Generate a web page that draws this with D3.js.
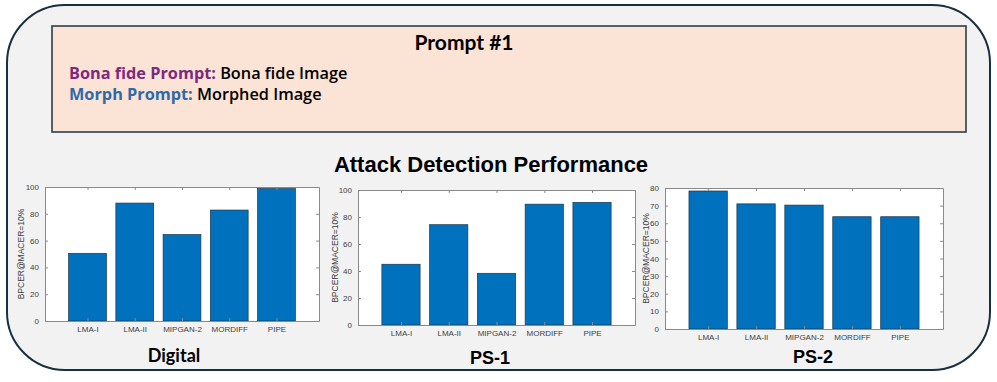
<!DOCTYPE html>
<html><head><meta charset="utf-8">
<script src="https://cdn.jsdelivr.net/npm/d3@7"></script>
<style>html,body{margin:0;padding:0;background:#fff;}svg{display:block;}</style>
</head><body>
<svg id="c" width="997" height="382"></svg>
<script>
const categories = ["LMA-I","LMA-II","MIPGAN-2","MORDIFF","PIPE"];
const digitalValues = [50.5, 88.0, 64.5, 82.8, 98.8];
const ps1Values = [45.0, 74.3, 38.3, 89.5, 90.8];
const ps2Values = [78.3, 71.0, 70.3, 63.7, 63.7];
const panelTitles = ["Digital","PS-1","PS-2"];
const yTicksDigital = [0,20,40,60,80,100];
const yTicksPS1 = [0,20,40,60,80,100];
const yTicksPS2 = [0,10,20,30,40,50,60,70,80];
const yLabel = "BPCER@MACER=10%";
const headerTitle = "Prompt #1";
const mainTitle = "Attack Detection Performance";

const svg = d3.select("#c");

// outer frame
svg.append("rect").attr("x",7).attr("y",5).attr("width",983).attr("height",365)
  .attr("rx",58).attr("ry",58).attr("fill","#f2f2f2").attr("stroke","#17303f").attr("stroke-width",2);

// header box
svg.append("rect").attr("x",52).attr("y",26).attr("width",914).attr("height",106)
  .attr("fill","#fbe3d6").attr("stroke","#1d3340").attr("stroke-width",1.5);

svg.append("text").attr("x",464).attr("y",50).attr("text-anchor","middle")
  .attr("font-family","Lato, 'Open Sans', sans-serif").attr("font-weight","bold").attr("font-size",21)
  .attr("fill","#000").text(headerTitle);

const hf = "'Open Sans', Lato, sans-serif";
const l1 = svg.append("text").attr("x",69).attr("y",79)
  .attr("font-family",hf).attr("font-size",16.3).attr("font-weight",600);
l1.append("tspan").attr("fill","#7b2a7d").attr("font-weight","bold").text("Bona fide Prompt: ");
l1.append("tspan").attr("fill","#000").text("Bona fide Image");
const l2 = svg.append("text").attr("x",69).attr("y",100)
  .attr("font-family",hf).attr("font-size",16.3).attr("font-weight",600);
l2.append("tspan").attr("fill","#2f6aa8").attr("font-weight","bold").text("Morph Prompt: ");
l2.append("tspan").attr("fill","#000").text("Morphed Image");

svg.append("text").attr("x",491).attr("y",172).attr("text-anchor","middle")
  .attr("font-family","'Liberation Sans', Arial, sans-serif").attr("font-weight","bold").attr("font-size",22)
  .attr("fill","#000").text(mainTitle);

function panel(cfg){
  const {x0,x1,y0,y1,values,ymax,ticks,title,titleX,titleY,labelX,titleFont} = cfg;
  const g = svg.append("g");
  const x = d3.scaleLinear().domain([0.1,5.9]).range([x0,x1]);
  const y = d3.scaleLinear().domain([0,ymax]).range([y1,y0]);
  g.append("rect").attr("x",x0).attr("y",y0).attr("width",x1-x0).attr("height",y1-y0).attr("fill","#fff");
  const bw = x(1.4)-x(1.0);
  g.selectAll("rect.bar").data(values).enter().append("rect").attr("class","bar")
    .attr("x",(d,i)=>x(i+1)-bw).attr("width",bw*2)
    .attr("y",d=>y(d)).attr("height",d=>y(0)-y(d))
    .attr("fill","#0072bd").attr("stroke","#1a3550").attr("stroke-width",0.7);
  const font = "'Liberation Sans', Arial, sans-serif";
  const xa = d3.axisBottom(x).tickValues([1,2,3,4,5]).tickFormat((d,i)=>categories[i]).tickSizeInner(-3).tickSizeOuter(0).tickPadding(5);
  const ya = d3.axisLeft(y).tickValues(ticks).tickSizeInner(-3).tickSizeOuter(0).tickPadding(6);
  const xt = d3.axisTop(x).tickValues([1,2,3,4,5]).tickFormat("").tickSizeInner(-3).tickSizeOuter(0);
  const yr = d3.axisRight(y).tickValues(ticks).tickFormat("").tickSizeInner(-3).tickSizeOuter(0);
  const gx = g.append("g").attr("transform",`translate(0,${y1})`).call(xa);
  const gy = g.append("g").attr("transform",`translate(${x0},0)`).call(ya);
  const gt = g.append("g").attr("transform",`translate(0,${y0})`).call(xt);
  const gr = g.append("g").attr("transform",`translate(${x1},0)`).call(yr);
  [gx,gy,gt,gr].forEach(a=>{
    a.selectAll("path.domain").attr("stroke","#8a8a8a").attr("stroke-width",1);
    a.selectAll(".tick line").attr("stroke","#8a8a8a");
    a.selectAll("text").attr("font-family",font).attr("font-size",8).attr("fill","#404040");
  });
  g.append("text").attr("transform",`translate(${labelX},${(y0+y1)/2}) rotate(-90)`)
    .attr("text-anchor","middle").attr("font-family",font).attr("font-size",8.5).attr("fill","#404040").text(yLabel);
  g.append("text").attr("x",titleX).attr("y",titleY).attr("text-anchor","middle")
    .attr("font-family",titleFont).attr("font-weight","bold").attr("font-size",18).attr("fill","#000").text(title);
}

panel({x0:45,x1:319,y0:187,y1:321,values:digitalValues,ymax:100,ticks:yTicksDigital,title:panelTitles[0],titleX:174,titleY:362,labelX:24,titleFont:"Lato, 'Open Sans', sans-serif"});
panel({x0:358,x1:635,y0:190,y1:325,values:ps1Values,ymax:100,ticks:yTicksPS1,title:panelTitles[1],titleX:490,titleY:364,labelX:338,titleFont:"'Liberation Sans', Arial, sans-serif"});
panel({x0:665,x1:943,y0:188,y1:329,values:ps2Values,ymax:80,ticks:yTicksPS2,title:panelTitles[2],titleX:813,titleY:363,labelX:649,titleFont:"'Liberation Sans', Arial, sans-serif"});
</script>
</body></html>
